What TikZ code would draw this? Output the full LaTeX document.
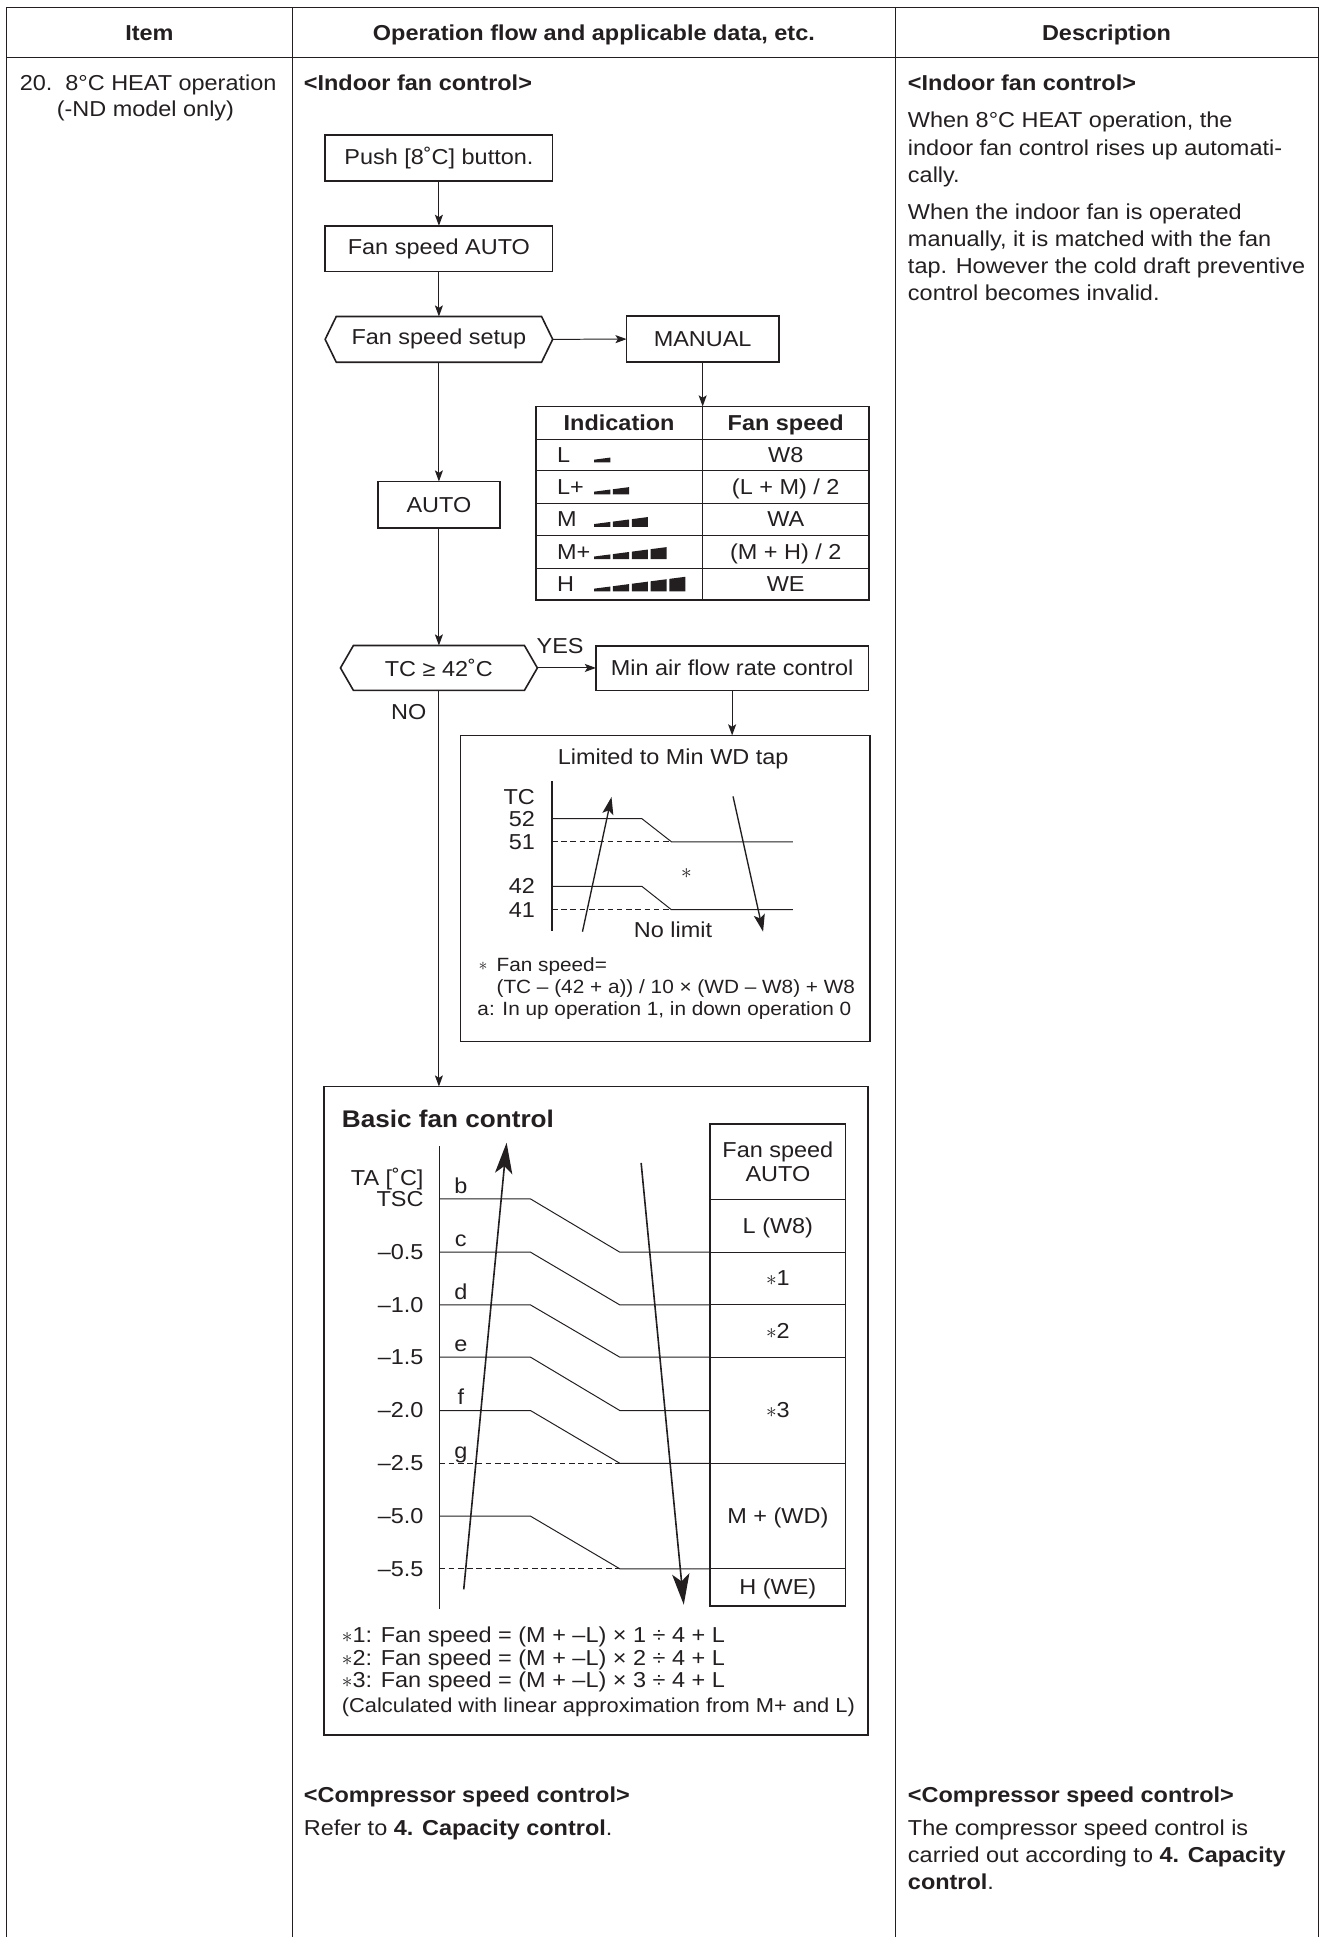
\documentclass[tikz,border=0pt]{standalone}
\usepackage{fontspec}
\setmainfont{Liberation Sans}[FakeStretch=1.085]
\usetikzlibrary{arrows.meta,calc}
\definecolor{ink}{HTML}{231F20}
\newcommand\fmain{\fontsize{17.5pt}{22pt}\selectfont}
\newcommand\fsmall{\fontsize{15.5pt}{18pt}\selectfont}
\newcommand\fcalc{\fontsize{16.3pt}{18pt}\selectfont}
\newcommand\fhead{\fontsize{17.5pt}{20pt}\selectfont\bfseries}
\newcommand\ftitle{\fontsize{19.5pt}{22pt}\selectfont\bfseries}
\newcommand\sta{\ensuremath{\ast}}
\begin{document}
\begin{tikzpicture}[x=1pt,y=-1pt,
  every node/.style={inner sep=0pt,outer sep=0pt,text=ink,font=\fmain},
  frame/.style={draw=ink,line width=0.8pt},
  fbox/.style={draw=ink,line width=1.3pt,font=\fmain},
  conn/.style={draw=ink,line width=0.8pt,-{Stealth[length=9pt,width=6.5pt,inset=2pt]}},
  hexline/.style={draw=ink,line width=1.3pt,line join=miter},
  tline/.style={draw=ink,line width=0.8pt},
  dsh/.style={draw=ink,line width=0.8pt,dash pattern=on 4.5pt off 3pt},
  bigarr/.style={draw=ink,line width=1.3pt,-{Stealth[length=25pt,width=14pt,inset=6pt]}},
  midarr/.style={draw=ink,line width=1.1pt,-{Stealth[length=14pt,width=9pt,inset=3pt]}},
  lbl/.style={anchor=base west},
  lbc/.style={anchor=base},
  lbe/.style={anchor=base east},
]
\useasboundingbox (0,0) rectangle (1073,1568);

% ---------- table frame ----------
\draw[frame] (5,1568) -- (5,6) -- (1067,6) -- (1067,1568);
\draw[frame] (5,46.5) -- (1067,46.5);
\draw[frame] (237,6) -- (237,1568);
\draw[frame] (724.5,6) -- (724.5,1568);

\node[lbc,font=\fhead] (hItem) at (121,33) {Item};
\node[lbc,font=\fhead] (hOp) at (480.75,33) {Operation flow and applicable data, etc.};
\node[lbc,font=\fhead] (hDesc) at (895.75,33) {Description};

% ---------- column 1 ----------
\node[lbl] (it1) at (16,73.5) {20.\ \ 8°C HEAT operation};
\node[lbl] (it2) at (46,94) {(-ND model only)};

% ---------- column 2 ----------
\node[lbl,font=\fmain\bfseries] (c2h) at (246,73.5) {<Indoor fan control>};

\node[fbox,minimum width=184.2,minimum height=37.3] (push) at (355.3,127.9) {Push [8˚C] button.};
\node[fbox,minimum width=184.2,minimum height=37] (fanauto) at (355.3,201.3) {Fan speed AUTO};
\node[minimum width=184.2,minimum height=37] (setup) at (355.3,274.7) {Fan speed setup};
\draw[hexline] (setup.west) -- ([xshift=9pt]setup.north west) -- ([xshift=-9pt]setup.north east) -- (setup.east) -- ([xshift=-9pt]setup.south east) -- ([xshift=9pt]setup.south west) -- cycle;
\node[fbox,minimum width=123.2,minimum height=37.4] (manual) at (568.8,274.5) {MANUAL};

% fan speed table
\node[draw=ink,line width=1.5pt,minimum width=269.8,minimum height=156.5] (ftab) at (568.6,407.25) {};
\foreach \yy in {355.5,381.1,407.3,433.5,459.9} {\draw[tline] (433.7,\yy) -- (703.5,\yy);}
\draw[tline] (568.6,329) -- (568.6,485.5);
\node[lbc,font=\fmain\bfseries] (tIndi) at (501.15,348.6) {Indication};
\node[lbc,font=\fmain\bfseries] (tSpeed) at (636.05,348.6) {Fan speed};
\node[lbl] (rL) at (451,374.3) {L};
\node[lbl] (rLp) at (451,400.2) {L+};
\node[lbl] (rM) at (451,426.4) {M};
\node[lbl] (rMp) at (451,452.7) {M+};
\node[lbl] (rH) at (451,478.7) {H};
\node[lbc] (vL) at (636.05,374.3) {W8};
\node[lbc] (vLp) at (636.05,400.2) {(L + M) / 2};
\node[lbc] (vM) at (636.05,426.4) {WA};
\node[lbc] (vMp) at (636.05,452.7) {(M + H) / 2};
\node[lbc] (vH) at (636.05,478.7) {WE};
\foreach \bb/\nn in {374.3/1,400.2/2,426.4/3,452.7/4,478.7/5} {
  \foreach \ii in {1,...,\nn} {
    \pgfmathsetmacro\xa{481+(\ii-1)*15.2}
    \pgfmathsetmacro\xb{\xa+13}
    \pgfmathsetmacro\ha{2.2+(\xa-481)*0.13}
    \pgfmathsetmacro\hb{2.2+(\xb-481)*0.13}
    \fill[ink] (\xa,\bb) -- (\xa,\bb-\ha) -- (\xb,\bb-\hb) -- (\xb,\bb) -- cycle;
  }
}

\node[fbox,minimum width=98.4,minimum height=37.7] (auto) at (355.3,408.6) {AUTO};
\node[minimum width=159.4,minimum height=36.4] (tc) at (355.3,540.7) {TC ≥ 42˚C};
\draw[hexline] (tc.west) -- ([xshift=10.5pt]tc.north west) -- ([xshift=-10.5pt]tc.north east) -- (tc.east) -- ([xshift=-10.5pt]tc.south east) -- ([xshift=10.5pt]tc.south west) -- cycle;
\node[fbox,minimum width=220.5,minimum height=36.1] (minair) at (592.65,540.8) {Min air flow rate control};
\node[lbl] (yes) at (434.4,528.7) {YES};
\node[lbl] (no) at (316.7,582.6) {NO};

% limited box
\node[draw=ink,line width=1.4pt,minimum width=331.2,minimum height=247.7] (limited) at (538.4,719.15) {};
\node[lbc] (ltitle) at (544.9,618.5) {Limited to Min WD tap};
\draw[draw=ink,line width=1.2pt] (446.8,632.5) -- (446.8,754);
\node[lbe] (lTC) at (433,651) {TC};
\node[lbe] (l52) at (433,668.7) {52};
\node[lbe] (l51) at (433,687.4) {51};
\node[lbe] (l42) at (433,723.5) {42};
\node[lbe] (l41) at (433,742.4) {41};
\draw[tline] (446.8,662.7) -- (519.6,662.7) -- (543.5,681.4) -- (641.8,681.4);
\draw[dsh] (446.8,681.4) -- (543.5,681.4);
\draw[tline] (446.8,717.5) -- (519.6,717.5) -- (543.5,736.4) -- (641.8,736.4);
\draw[dsh] (446.8,736.4) -- (543.5,736.4);
\draw[midarr] (471.5,754.2) -- (495,645.2);
\draw[midarr] (593.4,644.7) -- (617.7,754.2);
\node (lstar) at (555.7,707.2) {\sta};
\node[lbc] (nolim) at (544.8,759.3) {No limit};
\node[font=\fsmall] (nstar) at (391,782) {\sta};
\node[lbl,font=\fsmall] (n1) at (402,786.3) {Fan speed=};
\node[lbl,font=\fsmall] (n2) at (402,804.3) {(TC – (42 + a)) / 10 × (WD – W8) + W8};
\node[lbl,font=\fsmall] (n3) at (386.5,822) {a: In up operation 1, in down operation 0};

\draw[conn] (push.south) -- (fanauto.north);
\draw[conn] (fanauto.south) -- (setup.north);
\draw[conn] (setup.east) -- (manual.west);
\draw[conn] (manual.south) -- (manual.south |- ftab.north);
\draw[conn] (setup.south) -- (auto.north);
\draw[conn] (auto.south) -- (tc.north);
\draw[conn] (tc.east) -- (tc.east -| minair.west);
\draw[conn] (minair.south) -- (minair.south |- limited.north);

% basic box
\node[draw=ink,line width=1.5pt,minimum width=440.1,minimum height=525.3] (basic) at (482.45,1142.15) {};
\draw[conn] (tc.south) -- (tc.south |- basic.north);
\node[lbl,font=\ftitle] (btitle) at (276.8,913) {Basic fan control};
\draw[draw=ink,line width=1.3pt] (355.7,927.9) -- (355.7,1302.8);
\node[lbe] (aTA) at (342.8,959.7) {TA [˚C]};
\node[lbe] (aTSC) at (342.8,976.7) {TSC};
\node[lbe] (a05) at (342.8,1019.6) {–0.5};
\node[lbe] (a10) at (342.8,1062.3) {–1.0};
\node[lbe] (a15) at (342.8,1104.6) {–1.5};
\node[lbe] (a20) at (342.8,1147.8) {–2.0};
\node[lbe] (a25) at (342.8,1190.5) {–2.5};
\node[lbe] (a50) at (342.8,1233.3) {–5.0};
\node[lbe] (a55) at (342.8,1275.9) {–5.5};
\node[lbc] (lb) at (373,966) {b};
\node[lbc] (lc) at (373,1009.1) {c};
\node[lbc] (ld) at (373,1051.8) {d};
\node[lbc] (le) at (373,1094.1) {e};
\node[lbc] (lf) at (373,1137.3) {f};
\node[lbc] (lg) at (373,1180.5) {g};
\draw[tline] (355.7,970.5) -- (429.4,970.5) -- (501.7,1013.6) -- (574.8,1013.6);
\draw[tline] (355.7,1013.6) -- (429.4,1013.6) -- (501.7,1056.3) -- (574.8,1056.3);
\draw[tline] (355.7,1056.3) -- (429.4,1056.3) -- (501.7,1098.6) -- (574.8,1098.6);
\draw[tline] (355.7,1098.6) -- (429.4,1098.6) -- (501.7,1141.8) -- (574.8,1141.8);
\draw[tline] (355.7,1141.8) -- (429.4,1141.8) -- (501.7,1184.5) -- (574.8,1184.5);
\draw[dsh] (355.7,1184.5) -- (501.7,1184.5);
\draw[tline] (355.7,1227.3) -- (429.4,1227.3) -- (501.7,1269.9) -- (574.8,1269.9);
\draw[dsh] (355.7,1269.9) -- (501.7,1269.9);
% basic table
\node[draw=ink,line width=1.1pt,minimum width=109.8,minimum height=390.3] (btab) at (629.7,1104.95) {};
\foreach \yy in {971,1013.6,1056.3,1098.6,1184.5,1269.9} {\draw[tline] (574.8,\yy) -- (684.6,\yy);}
\node[lbc] (bFan) at (629.7,937.3) {Fan speed};
\node[lbc] (bAuto) at (629.7,956.2) {AUTO};
\node[lbc] (bL) at (629.7,998.3) {L (W8)};
\node[lbc] (b1) at (629.7,1041) {\sta1};
\node[lbc] (b2) at (629.7,1083.5) {\sta2};
\node[lbc] (b3) at (629.7,1147.5) {\sta3};
\node[lbc] (bMWD) at (629.7,1233.2) {M + (WD)};
\node[lbc] (bHWE) at (629.7,1291) {H (WE)};
\draw[bigarr] (375.4,1286.6) -- (410.1,925);
\draw[bigarr] (519,941.4) -- (553.5,1299);
\node[lbl] (f1) at (276.8,1329.2) {\sta1: Fan speed = (M + –L) × 1 ÷ 4 + L};
\node[lbl] (f2) at (276.8,1347.8) {\sta2: Fan speed = (M + –L) × 2 ÷ 4 + L};
\node[lbl] (f3) at (276.8,1366.4) {\sta3: Fan speed = (M + –L) × 3 ÷ 4 + L};
\node[lbl,font=\fcalc] (f4) at (276.8,1386.4) {(Calculated with linear approximation from M+ and L)};

\node[lbl,font=\fmain\bfseries] (c2h2) at (246,1459.5) {<Compressor speed control>};
\node[lbl] (c2r) at (246,1485.5) {Refer to \textbf{4. Capacity control}.};

% ---------- column 3 ----------
\node[lbl,font=\fmain\bfseries] (c3h) at (735,73.5) {<Indoor fan control>};
\node[lbl] (d1) at (735,103.5) {When 8°C HEAT operation, the};
\node[lbl] (d2) at (735,125.5) {indoor fan control rises up automati-};
\node[lbl] (d3) at (735,147.5) {cally.};
\node[lbl] (d4) at (735,177.5) {When the indoor fan is operated};
\node[lbl] (d5) at (735,199.5) {manually, it is matched with the fan};
\node[lbl] (d6) at (735,221.5) {tap. However the cold draft preventive};
\node[lbl] (d7) at (735,243.5) {control becomes invalid.};
\node[lbl,font=\fmain\bfseries] (c3h2) at (735,1459.5) {<Compressor speed control>};
\node[lbl] (e1) at (735,1485.5) {The compressor speed control is};
\node[lbl] (e2) at (735,1507.5) {carried out according to \textbf{4. Capacity}};
\node[lbl] (e3) at (735,1529.5) {\textbf{control}.};
\end{tikzpicture}
\end{document}
